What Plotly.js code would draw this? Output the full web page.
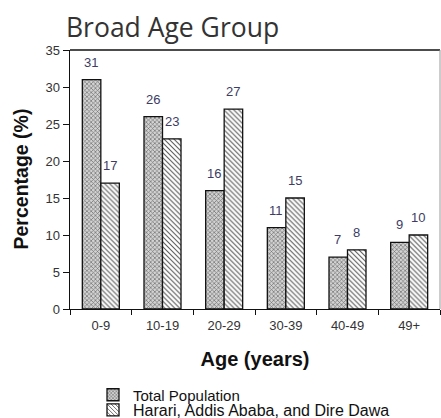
<!DOCTYPE html>
<html>
<head>
<meta charset="utf-8">
<script src="https://cdn.plot.ly/plotly-3.0.1.min.js"></script>
<style>
  html, body { margin: 0; padding: 0; background: #ffffff; }
  #chart { width: 441px; height: 418px; }
</style>
</head>
<body>
<div id="chart"></div>
<script>
const categories = ["0-9", "10-19", "20-29", "30-39", "40-49", "49+"];
const totalPopulation = [31, 26, 16, 11, 7, 9];
const harariAddisDire = [17, 23, 27, 15, 8, 10];
const seriesNames = ["Total Population", "Harari, Addis Ababa, and Dire Dawa"];
const yTickValues = [0, 5, 10, 15, 20, 25, 30, 35];
const yAxisTitle = "Percentage (%)";
const xAxisTitle = "Age (years)";

const labelColor = "#3c3c64";
const baseFont = "Liberation Sans, Arial, sans-serif";

const traceTotal = {
  type: "bar",
  name: seriesNames[0],
  x: categories,
  y: totalPopulation,
  legend: "legend",
  marker: {
    color: "#c8c8c8",
    line: { color: "#111111", width: 1.3 },
    pattern: { shape: "x", size: 3, solidity: 0.4, fgcolor: "#6e6e6e", bgcolor: "#d2d2d2", fillmode: "replace" }
  },
  hoverinfo: "x+y"
};

const traceHarari = {
  type: "bar",
  name: seriesNames[1],
  x: categories,
  y: harariAddisDire,
  legend: "legend2",
  marker: {
    color: "#ffffff",
    line: { color: "#111111", width: 1.3 },
    pattern: { shape: "\\", size: 3.5, solidity: 0.3, fgcolor: "#555555", bgcolor: "#ffffff", fillmode: "replace" }
  },
  hoverinfo: "x+y"
};

// value labels above each bar, placed through the axes' own scales
const annotations = [];
categories.forEach((c, i) => {
  annotations.push({ x: c, y: totalPopulation[i], xref: "x", yref: "y", text: String(totalPopulation[i]),
    showarrow: false, yanchor: "bottom", xshift: -10, yshift: 8,
    font: { family: baseFont, size: 13, color: labelColor } });
  annotations.push({ x: c, y: harariAddisDire[i], xref: "x", yref: "y", text: String(harariAddisDire[i]),
    showarrow: false, yanchor: "bottom", xshift: 9, yshift: 8,
    font: { family: baseFont, size: 13, color: labelColor } });
});
// y-axis title
annotations.push({
  text: yAxisTitle, xref: "paper", yref: "paper", x: -50 / 370, y: 0.5,
  xanchor: "center", yanchor: "middle", textangle: -90, showarrow: false,
  font: { family: baseFont, size: 19.5, color: "#111111", weight: "bold" }
});

const layout = {
  width: 441,
  height: 418,
  margin: { l: 70, r: 1, t: 50, b: 109, pad: 0, autoexpand: false },
  paper_bgcolor: "#ffffff",
  plot_bgcolor: "#ffffff",
  barmode: "group",
  bargap: 0.4,
  bargroupgap: 0,
  title: {
    text: "Broad Age Group",
    font: { family: "Open Sans, sans-serif", size: 26.5, color: "#333333" },
    xref: "container", yref: "container",
    x: 66 / 441, xanchor: "left",
    y: 1 - 28 / 418, yanchor: "middle"
  },
  xaxis: {
    type: "category",
    showline: true, linecolor: "#111111", linewidth: 1.3,
    ticks: "outside", tickson: "boundaries", ticklen: 5, tickcolor: "#111111", tickwidth: 1,
    ticklabelstandoff: 4,
    tickfont: { family: baseFont, size: 13, color: "#333333" },
    showgrid: false, zeroline: false,
    fixedrange: true,
    title: { text: xAxisTitle, standoff: 20,
      font: { family: baseFont, size: 20, color: "#111111", weight: "bold" } },
    automargin: false
  },
  yaxis: {
    range: [0, 35],
    tickvals: yTickValues,
    showline: true, linecolor: "#111111", linewidth: 1.5,
    ticks: "outside", ticklen: 6, tickcolor: "#111111", tickwidth: 1,
    tickfont: { family: baseFont, size: 13, color: "#333333" },
    showgrid: false, zeroline: false,
    fixedrange: true,
    automargin: false
  },
  showlegend: true,
  legend: {
    xref: "container", yref: "container",
    x: 93 / 441, xanchor: "left",
    y: 1 - 395 / 418, yanchor: "middle",
    bgcolor: "rgba(0,0,0,0)", borderwidth: 0,
    font: { family: baseFont, size: 15, color: "#111111" },
    itemwidth: 30
  },
  legend2: {
    xref: "container", yref: "container",
    x: 93 / 441, xanchor: "left",
    y: 1 - 410 / 418, yanchor: "middle",
    bgcolor: "rgba(0,0,0,0)", borderwidth: 0,
    font: { family: baseFont, size: 16, color: "#111111" },
    itemwidth: 30
  },
  shapes: [
    { type: "line", xref: "paper", yref: "paper", x0: 0, x1: 1, y0: 1, y1: 1,
      line: { color: "#111111", width: 1.5 } },
    { type: "line", xref: "paper", yref: "paper", x0: 1, x1: 1, y0: 0, y1: 1,
      line: { color: "#9a9a9a", width: 1 } }
  ],
  annotations: annotations
};

Plotly.newPlot("chart", [traceTotal, traceHarari], layout, { displayModeBar: false, staticPlot: true });
</script>
</body>
</html>
